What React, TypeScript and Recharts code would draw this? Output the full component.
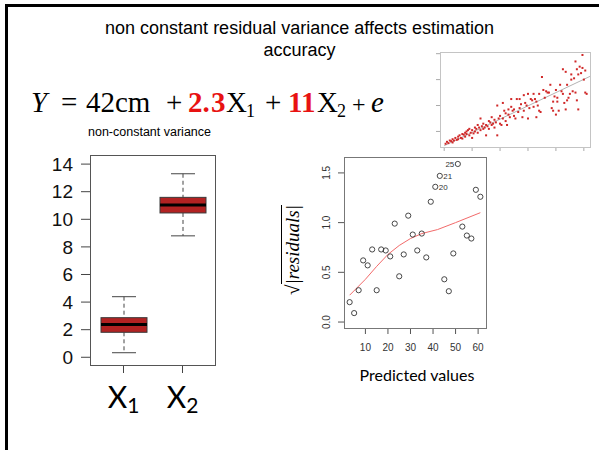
import React from "react";
import { Bar, ComposedChart, Line, Scatter, XAxis, YAxis } from "recharts";

// box plot (non-constant variance)
const boxNames = ["X1", "X2"];
const boxSubs = ["1", "2"];
const boxMin = [0.33, 8.8];
const boxQ1 = [1.81, 10.46];
const boxMedian = [2.38, 11.04];
const boxQ3 = [2.87, 11.59];
const boxMax = [4.39, 13.3];
const boxTicks = [0, 2, 4, 6, 8, 10, 12, 14];

// scale-location plot
const predictedValues = [3, 5, 7, 9, 11, 13, 15, 17, 19, 21, 23, 25, 27, 29, 31, 33, 35, 37, 39, 41, 43, 45, 47, 49, 51, 53, 55, 57, 59, 61];
const sqrtResiduals = [0.2, 0.09, 0.32, 0.62, 0.57, 0.73, 0.32, 0.73, 0.72, 0.66, 0.99, 0.46, 0.68, 1.07, 0.88, 0.72, 0.89, 0.65, 1.21, 1.36, 1.47, 0.43, 0.31, 0.69, 1.59, 0.96, 0.87, 0.84, 1.33, 1.26];
const flaggedAt = [41, 43, 51];
const flaggedIds = ["20", "21", "25"];
const smoothX = [3, 10, 15, 20, 25, 30, 35, 42, 50, 61];
const smoothY = [0.27, 0.43, 0.56, 0.68, 0.77, 0.84, 0.89, 0.93, 1.0, 1.1];
const residTicksX = [10, 20, 30, 40, 50, 60];
const residTicksY = [0, 0.5, 1, 1.5];

// small inset scatter
const insetX = [0.5, 1, 1.5, 2, 2.5, 3, 3, 3.5, 4, 4.5, 5, 5, 5.5, 6, 6.5, 6.5, 7, 7.5, 7.5, 8, 8, 8.5, 9, 9, 9.5, 10, 10, 10.5, 11, 11, 11.5, 12, 12, 12.5, 13, 13, 13.5, 14, 14, 14.5, 15, 15, 15.5, 16, 16, 16.5, 17, 17, 17.5, 18, 18, 18.5, 19, 19, 19.5, 20, 20, 20.5, 21, 21, 21.5, 22, 22, 22.5, 23, 23, 23.5, 24, 24, 24.5, 25, 25, 25.5, 26, 26.5, 27, 27, 27.5, 28, 28.5, 28.5, 29, 29.5, 30, 30, 30.5, 31, 31.5, 32, 32, 32.5, 33, 33, 33.5, 34, 34, 34.5, 35, 35.5, 36, 36.5, 37, 37.5, 38, 38.5, 39, 39, 39.5, 40, 40.5, 40.5, 41, 41.5, 42, 42.5, 42.5, 43, 43.5, 43.5, 44, 44.5, 45, 45.5, 45.5, 46, 46.5, 47, 47, 47.5, 47.5, 48, 48, 48.5, 49, 49.5, 49.5, 50, 50.5, 50.5, 51, 44, 40];
const insetY = [0.5, 2, 1, 3, 2.5, 1.5, 4, 3, 5, 3.5, 6, 4, 7, 5, 8, 4.5, 7.5, 9, 6, 10, 8, 11, 7, 12, 9, 11, 5, 8.5, 13, 10, 12, 15, 9, 13, 20, 11, 14, 12, 16, 13, 15, 7, 14, 18, 12, 17, 21, 15, 16, 19, 13, 17, 30, 7, 20, 16, 22, 15, 20, 32, 26, 18, 24, 15, 23, 27, 21, 29, 35, 26, 22, 27, 20, 35, 25, 35, 28, 31, 21, 38, 26, 32, 30, 39, 20, 28, 35, 34, 39, 29, 35, 33, 21, 30, 39, 26, 25, 52, 42, 36, 41, 40, 40, 46, 28, 26, 33, 37, 42, 36, 33, 26, 46, 41, 58, 39, 32, 56, 27, 46, 36, 39, 54, 50, 41, 51, 64, 40, 58, 34, 54, 27, 60, 55, 59, 69, 50, 57, 40, 39, 34, 23];
const fitX = [0, 52.2];
const fitY = [-1, 52.5];

const boxRows = boxNames.map((name, i) => ({
  name,
  range: [boxQ1[i], boxQ3[i]],
  min: boxMin[i],
  q1: boxQ1[i],
  median: boxMedian[i],
  q3: boxQ3[i],
  max: boxMax[i]
}));
const residPoints = predictedValues.map((x, i) => {
  const k = flaggedAt.indexOf(x);
  return { x, y: sqrtResiduals[i], id: k >= 0 ? flaggedIds[k] : "" };
});
const smoothPoints = smoothX.map((x, i) => ({ x, y: smoothY[i] }));
const insetPoints = insetX.map((x, i) => ({ x, y: insetY[i] }));
const fitPoints = fitX.map((x, i) => ({ x, y: fitY[i] }));

function BoxShape(props: any) {
  const { x, y, width, height, payload } = props;
  const unit = height / (payload.q3 - payload.q1);
  const py = (v: number) => y + (payload.q3 - v) * unit;
  const cx = x + width / 2;
  const cap = 12;
  return (
    <g>
      <line x1={cx} x2={cx} y1={py(payload.max)} y2={py(payload.q3)} stroke="#444" strokeDasharray="4 3" />
      <line x1={cx} x2={cx} y1={py(payload.q1)} y2={py(payload.min)} stroke="#444" strokeDasharray="4 3" />
      <line x1={cx - cap} x2={cx + cap} y1={py(payload.max)} y2={py(payload.max)} stroke="#444" />
      <line x1={cx - cap} x2={cx + cap} y1={py(payload.min)} y2={py(payload.min)} stroke="#444" />
      <rect x={x} y={y} width={width} height={height} fill="#b22222" stroke="#3a3a3a" />
      <line x1={x} x2={x + width} y1={py(payload.median)} y2={py(payload.median)} stroke="#000" strokeWidth={3} />
    </g>
  );
}

function BoxTick(props: any) {
  const { x, y, index } = props;
  return (
    <text x={x} y={y + 33} textAnchor="middle" fontFamily="Lato" fill="#000">
      <tspan fontSize={30}>X</tspan>
      <tspan fontSize={21} dy={5}>{boxSubs[index]}</tspan>
    </text>
  );
}

function ResidYTick(props: any) {
  const { x, y, payload } = props;
  return (
    <text x={x} y={y} transform={`rotate(-90 ${x} ${y})`} textAnchor="middle" fontSize={10} fontFamily="Liberation Sans" fill="#333">
      {payload.value.toFixed(1)}
    </text>
  );
}

function ResidDot(props: any) {
  const { cx, cy, payload } = props;
  return (
    <g>
      <circle cx={cx} cy={cy} r={2.6} fill="none" stroke="#333" strokeWidth={0.9} />
      {payload.id === "25" && (
        <text x={cx - 3.5} y={cy + 3} textAnchor="end" fontSize={8} fontFamily="Liberation Sans" fill="#333">{payload.id}</text>
      )}
      {payload.id && payload.id !== "25" && (
        <text x={cx + 3.5} y={cy + 3} textAnchor="start" fontSize={8} fontFamily="Liberation Sans" fill="#333">{payload.id}</text>
      )}
    </g>
  );
}

function InsetDot(props: any) {
  const { cx, cy } = props;
  return <rect x={cx - 1} y={cy - 1} width={2} height={2} fill="#d02828" />;
}

const abs = (left: number, top: number): React.CSSProperties => ({ position: "absolute", left, top });

function Equation() {
  const red = "#e81212";
  return (
    <svg width={420} height={60} style={abs(0, 75)}>
      <text y={37} fontFamily="Liberation Serif" fontSize={29} fill="#000">
        <tspan x={31} fontStyle="italic">Y</tspan>
        <tspan x={61}>=</tspan>
        <tspan x={86}>42cm</tspan>
        <tspan x={166}>+</tspan>
        <tspan x={188} fill={red} fontWeight="bold">2.</tspan>
        <tspan x={211} fill={red} fontWeight="bold">3</tspan>
        <tspan x={226}>X</tspan>
        <tspan x={246} dy={5} fontSize={18}>1</tspan>
        <tspan x={265} dy={-5}>+</tspan>
        <tspan x={288} fill={red} fontWeight="bold">11</tspan>
        <tspan x={317}>X</tspan>
        <tspan x={337} dy={5} fontSize={18}>2</tspan>
        <tspan x={352} dy={-5} fontSize={24}>+</tspan>
        <tspan x={371} fontStyle="italic">e</tspan>
      </text>
    </svg>
  );
}

export default function App() {
  return (
    <div style={{ position: "absolute", left: 0, top: 0, width: 599, height: 450, overflow: "hidden", background: "#fff", fontFamily: "Liberation Sans" }}>
      <div style={{ ...abs(5, 4), width: 700, height: 600, border: "3px solid #000", boxSizing: "border-box" }} />

      <div style={{ ...abs(0, 17), width: 599, textAlign: "center", fontSize: 18, lineHeight: "22px", color: "#000" }}>
        non constant residual variance affects estimation
        <br />
        accuracy
      </div>

      <Equation />

      <div style={{ ...abs(88, 124), fontSize: 12.5, lineHeight: "16px", color: "#000" }}>non-constant variance</div>

      {/* box plot */}
      <div style={abs(0, 140)}>
        <ComposedChart width={240} height={290} data={boxRows} margin={{ top: 15, right: 24, bottom: 0, left: 0 }}>
          <XAxis dataKey="name" height={65} padding={{ left: 4, right: 4 }} axisLine={false} tickSize={8} tickLine={{ stroke: "#444" }} tickMargin={2} tick={<BoxTick />} />
          <YAxis width={90} domain={[-0.56, 14.66]} ticks={boxTicks} allowDataOverflow axisLine={false} tickSize={9} tickMargin={8} tickLine={{ stroke: "#444" }} tick={{ fontSize: 19, fill: "#111", fontFamily: "Liberation Sans" }} />
          <Bar dataKey="range" barSize={46} shape={<BoxShape />} isAnimationActive={false} />
        </ComposedChart>
      </div>
      <div style={{ ...abs(90, 155), width: 126, height: 211, border: "1px solid #555", boxSizing: "border-box", pointerEvents: "none" }} />

      {/* scale-location plot */}
      <div style={abs(270, 140)}>
        <ComposedChart width={230} height={250} margin={{ top: 17, right: 14, bottom: 0, left: 0 }}>
          <XAxis dataKey="x" type="number" domain={[0.5, 63.5]} ticks={residTicksX} allowDataOverflow height={62} axisLine={false} tickSize={6} tickMargin={10} tickLine={{ stroke: "#555" }} tick={{ fontSize: 10, fill: "#333", fontFamily: "Liberation Sans" }} />
          <YAxis dataKey="y" type="number" domain={[-0.06, 1.66]} ticks={residTicksY} allowDataOverflow width={74} axisLine={false} tickSize={6} tickMargin={8} tickLine={{ stroke: "#555" }} tick={<ResidYTick />} />
          <Line data={smoothPoints} dataKey="y" type="linear" stroke="#f26a6a" strokeWidth={1} dot={false} isAnimationActive={false} />
          <Scatter data={residPoints} dataKey="y" shape={<ResidDot />} isAnimationActive={false} />
        </ComposedChart>
      </div>
      <div style={{ ...abs(344, 157), width: 143, height: 172, border: "1px solid #777", boxSizing: "border-box", pointerEvents: "none" }} />
      <div style={{ ...abs(293 - 70, 250 - 14), width: 140, height: 28, lineHeight: "28px", textAlign: "center", transform: "rotate(-90deg)", fontFamily: "Liberation Serif", fontStyle: "italic", fontSize: 19, whiteSpace: "nowrap", color: "#000" }}>
        <span style={{ fontStyle: "normal" }}>√</span>
        <span style={{ borderTop: "1px solid #000" }}>|residuals|</span>
      </div>
      <div style={{ ...abs(350, 366), width: 134, textAlign: "center", fontFamily: "Lato", fontSize: 16, lineHeight: "18px", color: "#000" }}>Predicted values</div>

      {/* inset scatter */}
      <div style={abs(420, 40)}>
        <ComposedChart width={179} height={120} margin={{ top: 12, right: 9, bottom: 0, left: 0 }}>
          <XAxis dataKey="x" type="number" domain={[-1.5, 52.2]} ticks={[0, 10, 20, 30, 40, 50]} allowDataOverflow height={13} axisLine={false} tickSize={4} tickLine={{ stroke: "#aaa" }} tick={() => <g />} />
          <YAxis dataKey="y" type="number" domain={[-2, 71.3]} ticks={[0, 10, 20, 30, 40, 50, 60, 70]} allowDataOverflow width={20} axisLine={false} tickSize={4} tickLine={{ stroke: "#aaa" }} tick={() => <g />} />
          <Line data={fitPoints} dataKey="y" type="linear" stroke="#b4b4b4" strokeWidth={1} dot={false} isAnimationActive={false} />
          <Scatter data={insetPoints} dataKey="y" shape={<InsetDot />} isAnimationActive={false} />
        </ComposedChart>
      </div>
      <div style={{ ...abs(440, 52), width: 151, height: 96, border: "1px solid #c4c4c4", boxSizing: "border-box", pointerEvents: "none" }} />
    </div>
  );
}
